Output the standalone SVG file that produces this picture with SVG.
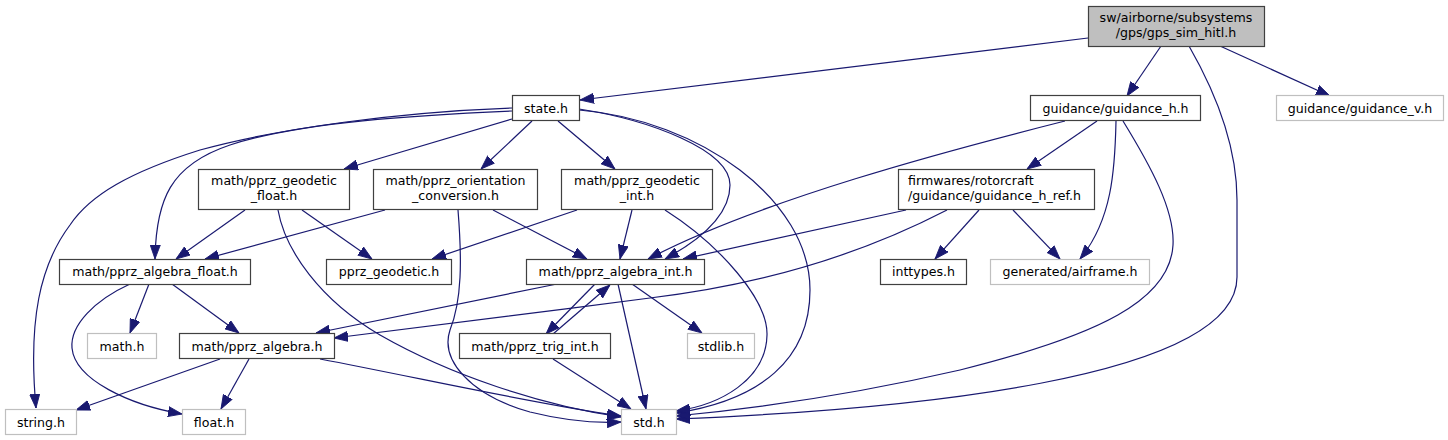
<svg xmlns="http://www.w3.org/2000/svg" width="1448" height="440" viewBox="0 0 1448 440">
<style>
.n rect{fill:#ffffff;stroke:#404040;stroke-width:1.2}
.g rect{fill:#ffffff;stroke:#bfbfbf;stroke-width:1.2}
.root rect{fill:#bfbfbf;stroke:#404040;stroke-width:1.2}
text{font-family:"DejaVu Sans",Verdana,sans-serif;font-size:12.6px;fill:#000000;text-anchor:middle}
text.l{text-anchor:start}
#edges path{fill:none;stroke:#191970;stroke-width:1.2;marker-end:url(#ah)}
</style>
<defs>
<marker id="ah" markerUnits="userSpaceOnUse" markerWidth="14" markerHeight="11" viewBox="0 0 13 10" refX="13" refY="5" orient="auto">
<path d="M0,0.3 L13,5 L0,9.7 z" fill="#191970" stroke="#191970" stroke-width="0.8"/>
</marker>
</defs>
<rect width="1448" height="440" fill="#ffffff"/>
<g id="edges">
<path d="M1088,38 L580,100"/>
<path d="M1161,46 L1127,96"/>
<path d="M1220,46 L1330,96"/>
<path d="M1189,46 C1220,100 1237,150 1237,200 L1237,277 C1237,380 900,410 676,419"/>
<path d="M512,108 C400,112 280,128 200,150 C130,172 90,195 70,225 C40,265 28,320 36,408"/>
<path d="M512,111 C420,115 300,122 230,145 C170,165 156,200 155,259"/>
<path d="M512,119 L344,169"/>
<path d="M532,121 L481,169"/>
<path d="M558,121 L615,169"/>
<path d="M579,109 C650,120 730,150 730,185 C730,215 700,240 665,259"/>
<path d="M579,110 C700,120 810,200 810,290 C810,360 760,400 676,413"/>
<path d="M1065,121 C950,150 760,200 648,259"/>
<path d="M1097,121 L1027,169"/>
<path d="M1116,121 C1115,170 1112,220 1080,259"/>
<path d="M1123,121 C1150,165 1175,210 1173,245 C1170,300 1100,335 960,370 C860,393 760,408 676,416"/>
<path d="M906,210 L683,259"/>
<path d="M947,210 C860,255 760,285 650,298 C540,312 420,328 334,338"/>
<path d="M979,210 L935,259"/>
<path d="M1013,210 L1060,259"/>
<path d="M245,210 L176,259"/>
<path d="M302,210 L372,259"/>
<path d="M278,210 C285,250 320,300 380,335 C450,375 540,405 621,417"/>
<path d="M385,210 L205,259"/>
<path d="M493,210 L587,259"/>
<path d="M458,210 C462,260 462,300 450,330 C440,360 470,395 530,412 C570,422 600,423 621,422"/>
<path d="M577,210 L432,259"/>
<path d="M632,210 L620,259"/>
<path d="M665,210 C720,245 768,300 767,335 C766,380 720,405 676,411"/>
<path d="M149,284 L130,333"/>
<path d="M172,284 L239,333"/>
<path d="M130,284 C95,300 70,325 72,348 C75,380 130,405 182,414"/>
<path d="M557,284 L316,333"/>
<path d="M595,284 L546,334"/>
<path d="M553,334 L610,285"/>
<path d="M632,284 L702,333"/>
<path d="M618,284 L646,409"/>
<path d="M553,359 L631,409"/>
<path d="M220,359 L76,410"/>
<path d="M249,359 L221,409"/>
<path d="M320,359 C420,378 540,405 621,416"/>
</g>
<g id="node_gps_sim_hitl" class="root"><rect x="1088.5" y="6.5" width="176" height="40"/><text x="1176" y="22">sw/airborne/subsystems</text><text x="1176" y="37">/gps/gps_sim_hitl.h</text></g>
<g id="node_state" class="n"><rect x="512.5" y="95.5" width="67" height="25"/><text x="546" y="112.5">state.h</text></g>
<g id="node_guidance_h" class="n"><rect x="1030.5" y="95.5" width="170" height="25"/><text x="1115.5" y="112.5">guidance/guidance_h.h</text></g>
<g id="node_guidance_v" class="g"><rect x="1276.5" y="95.5" width="167" height="25"/><text x="1360" y="112.5">guidance/guidance_v.h</text></g>
<g id="node_geodetic_float" class="n"><rect x="198.5" y="169.5" width="151" height="40"/><text x="274" y="185">math/pprz_geodetic</text><text x="274" y="200">_float.h</text></g>
<g id="node_orientation" class="n"><rect x="373.5" y="169.5" width="164" height="40"/><text x="455.5" y="185">math/pprz_orientation</text><text x="455.5" y="200">_conversion.h</text></g>
<g id="node_geodetic_int" class="n"><rect x="561.5" y="169.5" width="151" height="40"/><text x="637" y="185">math/pprz_geodetic</text><text x="637" y="200">_int.h</text></g>
<g id="node_guidance_h_ref" class="n"><rect x="898.5" y="169.5" width="196" height="40"/><text class="l" x="908" y="185">firmwares/rotorcraft</text><text class="l" x="908" y="200">/guidance/guidance_h_ref.h</text></g>
<g id="node_algebra_float" class="n"><rect x="59.5" y="259.5" width="191" height="25"/><text x="155" y="276">math/pprz_algebra_float.h</text></g>
<g id="node_pprz_geodetic" class="n"><rect x="326.5" y="259.5" width="125" height="25"/><text x="389" y="276">pprz_geodetic.h</text></g>
<g id="node_algebra_int" class="n"><rect x="526.5" y="259.5" width="178" height="25"/><text x="615.5" y="276">math/pprz_algebra_int.h</text></g>
<g id="node_inttypes" class="n"><rect x="880.5" y="259.5" width="86" height="25"/><text x="923.5" y="276">inttypes.h</text></g>
<g id="node_airframe" class="g"><rect x="990.5" y="259.5" width="159" height="25"/><text x="1070" y="276">generated/airframe.h</text></g>
<g id="node_math" class="g"><rect x="87.5" y="333.5" width="69" height="25"/><text x="122" y="350.5">math.h</text></g>
<g id="node_algebra" class="n"><rect x="179.5" y="333.5" width="155" height="25"/><text x="257" y="350.5">math/pprz_algebra.h</text></g>
<g id="node_trig_int" class="n"><rect x="459.5" y="333.5" width="151" height="25"/><text x="535" y="350.5">math/pprz_trig_int.h</text></g>
<g id="node_stdlib" class="g"><rect x="687.5" y="333.5" width="67" height="25"/><text x="721" y="350.5">stdlib.h</text></g>
<g id="node_string" class="g"><rect x="5.5" y="409.5" width="71" height="25"/><text x="41" y="426.5">string.h</text></g>
<g id="node_float" class="g"><rect x="182.5" y="409.5" width="63" height="25"/><text x="214" y="426.5">float.h</text></g>
<g id="node_std" class="g"><rect x="621.5" y="409.5" width="55" height="25"/><text x="649" y="426.5">std.h</text></g>
</svg>
